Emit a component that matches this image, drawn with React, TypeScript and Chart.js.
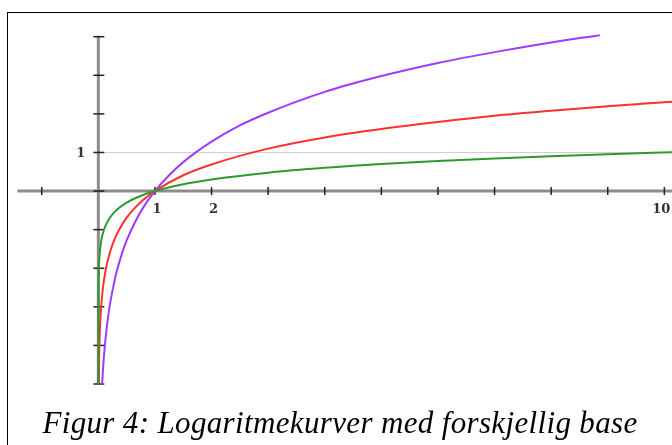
import React, { useEffect, useRef } from "react";
import { Chart, registerables } from "chart.js";

Chart.register(...registerables);

const purpleX = [0.067, 0.08, 0.1, 0.15, 0.2, 0.3, 0.4, 0.5, 0.65, 0.8, 1, 1.25, 1.5, 2, 2.5, 3, 4, 5, 6, 7, 8, 8.86];
const purpleY = [-5.0, -4.68, -4.26, -3.51, -2.98, -2.23, -1.7, -1.28, -0.8, -0.41, 0, 0.41, 0.75, 1.28, 1.7, 2.03, 2.57, 2.98, 3.32, 3.6, 3.85, 4.04];

const redX = [0.0067, 0.01, 0.015, 0.02, 0.03, 0.05, 0.075, 0.1, 0.15, 0.2, 0.3, 0.4, 0.5, 0.65, 0.8, 1, 1.5, 2, 3, 4, 5, 6, 7, 8, 9, 10.2];
const redY = [-5.0, -4.61, -4.2, -3.91, -3.51, -3.0, -2.59, -2.3, -1.9, -1.61, -1.2, -0.92, -0.69, -0.43, -0.22, 0, 0.41, 0.69, 1.1, 1.39, 1.61, 1.79, 1.95, 2.08, 2.2, 2.32];

const greenX = [0.00001, 0.0001, 0.001, 0.003, 0.01, 0.02, 0.05, 0.1, 0.2, 0.3, 0.5, 0.7, 1, 1.5, 2, 3, 4, 5, 6, 7, 8, 9, 10.2];
const greenY = [-5.0, -4.0, -3.0, -2.52, -2.0, -1.7, -1.3, -1.0, -0.7, -0.52, -0.3, -0.155, 0, 0.176, 0.301, 0.477, 0.602, 0.699, 0.778, 0.845, 0.903, 0.954, 1.009];

const xTicks = [-1, 0, 1, 2, 3, 4, 5, 6, 7, 8, 9, 10];
const yTicks = [-5, -4, -3, -2, -1, 0, 1, 2, 3, 4];
const xTickLabels = [
  { v: 1, t: "1" },
  { v: 2, t: "2" },
  { v: 10, t: "10" },
];
const yTickLabels = [{ v: 1, t: "1" }];
const gridY = [1];

const caption = "Figur 4: Logaritmekurver med forskjellig base";

const toPts = (xs: number[], ys: number[]) => xs.map((x, i) => ({ x, y: ys[i] }));

const axesPlugin = {
  id: "centerAxes",
  beforeDatasetsDraw(chart: any) {
    const { ctx, scales } = chart;
    const sx = scales.x;
    const sy = scales.y;
    const x0 = sx.getPixelForValue(0);
    const y0 = sy.getPixelForValue(0);
    const right = chart.chartArea.right;
    const left = chart.chartArea.left;
    ctx.save();
    // grid line
    ctx.strokeStyle = "#d0d0d0";
    ctx.lineWidth = 1;
    gridY.forEach((g) => {
      const py = Math.round(sy.getPixelForValue(g)) + 0.5;
      ctx.beginPath();
      ctx.moveTo(x0, py);
      ctx.lineTo(right, py);
      ctx.stroke();
    });
    // axis lines
    ctx.strokeStyle = "#8c8c8c";
    ctx.lineWidth = 3;
    ctx.beginPath();
    ctx.moveTo(left, y0);
    ctx.lineTo(right, y0);
    ctx.stroke();
    ctx.beginPath();
    ctx.moveTo(x0, sy.getPixelForValue(4) - 1);
    ctx.lineTo(x0, sy.getPixelForValue(-5));
    ctx.stroke();
    // ticks
    ctx.strokeStyle = "#222";
    ctx.lineWidth = 1.5;
    xTicks.forEach((v) => {
      if (v === 0) return;
      const px = sx.getPixelForValue(v);
      ctx.beginPath();
      ctx.moveTo(px, y0 - 4);
      ctx.lineTo(px, y0 + 4);
      ctx.stroke();
    });
    yTicks.forEach((v) => {
      const py = sy.getPixelForValue(v);
      ctx.beginPath();
      ctx.moveTo(x0 - 5, py);
      ctx.lineTo(x0 + 6, py);
      ctx.stroke();
    });
    // labels
    ctx.fillStyle = "#333";
    ctx.font = "bold 13px 'DejaVu Serif'";
    ctx.textBaseline = "top";
    ctx.textAlign = "center";
    xTickLabels.forEach((l) => {
      const px = sx.getPixelForValue(l.v);
      ctx.fillText(l.t, px + 2 - (l.t.length > 1 ? 5 : 0), y0 + 12);
    });
    ctx.textAlign = "right";
    ctx.textBaseline = "middle";
    yTickLabels.forEach((l) => {
      const py = sy.getPixelForValue(l.v);
      ctx.fillText(l.t, x0 - 13, py + 1);
    });
    ctx.restore();
  },
};

export default function App() {
  const ref = useRef<HTMLCanvasElement | null>(null);
  useEffect(() => {
    if (!ref.current) return;
    const mk = (xs: number[], ys: number[], color: string) => ({
      data: toPts(xs, ys),
      borderColor: color,
      borderWidth: 2,
      pointRadius: 0,
      cubicInterpolationMode: "monotone" as const,
      fill: false,
    });
    const chart = new Chart(ref.current, {
      type: "line",
      data: {
        datasets: [
          mk(greenX, greenY, "#2e9a2e"),
          mk(redX, redY, "#ff3030"),
          mk(purpleX, purpleY, "#9b3cff"),
        ],
      },
      options: {
        animation: false,
        responsive: false,
        maintainAspectRatio: false,
        layout: { padding: { left: 17.4, right: 0, top: 34, bottom: 61 } },
        plugins: { legend: { display: false }, tooltip: { enabled: false } },
        scales: {
          x: { type: "linear", min: -1.43, max: 10.135, display: false },
          y: { type: "linear", min: -5, max: 4.07, display: false },
        },
      },
      plugins: [axesPlugin],
    });
    return () => chart.destroy();
  }, []);
  return (
    <div style={{ position: "absolute", left: 0, top: 0, width: 672, height: 445, overflow: "hidden", background: "#fff" }}>
      <canvas ref={ref} width={672} height={445} style={{ position: "absolute", left: 0, top: 0 }} />
      <div
        style={{
          position: "absolute",
          left: 7,
          top: 12,
          width: 700,
          height: 500,
          borderLeft: "1.5px solid #000",
          borderTop: "1.5px solid #000",
          pointerEvents: "none",
        }}
      />
      <div
        style={{
          position: "absolute",
          left: 8,
          width: 664,
          top: 405,
          textAlign: "center",
          fontFamily: "'Liberation Serif', serif",
          fontStyle: "italic",
          fontSize: 31,
          letterSpacing: "0.35px",
          lineHeight: "36px",
          color: "#000",
          whiteSpace: "nowrap",
        }}
      >
        {caption}
      </div>
    </div>
  );
}
